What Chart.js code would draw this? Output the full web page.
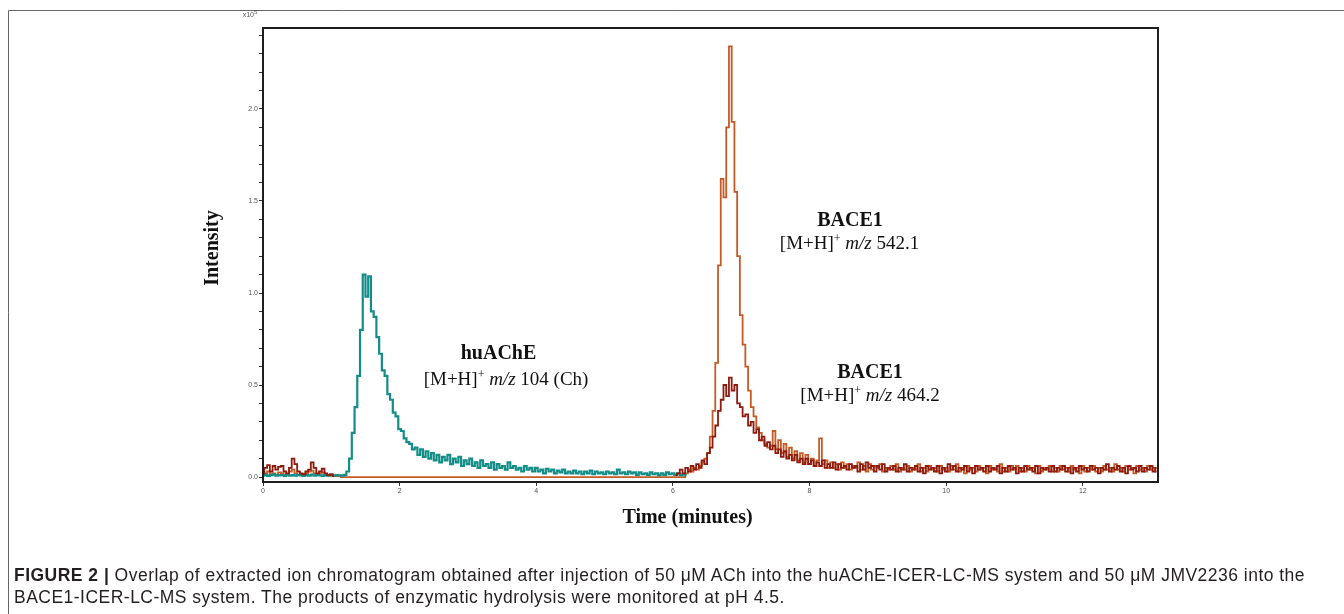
<!DOCTYPE html>
<html>
<head>
<meta charset="utf-8">
<script src="https://cdn.jsdelivr.net/npm/chart.js@4.4.1/dist/chart.umd.min.js"></script>
<style>
  html, body { margin: 0; padding: 0; background: #fff; }
  #wrap { position: relative; width: 1344px; height: 614px; overflow: hidden; }
  canvas { position: absolute; left: 0; top: 0; }
  .cap { position: absolute; left: 14px; white-space: nowrap; font-family: "Liberation Sans", Arial, sans-serif;
         font-size: 17.5px; line-height: 20px; color: #231f20; }
  #cap1 { top: 565px; }
  #cap2 { top: 587px; }
</style>
</head>
<body>
<div id="wrap">
  <canvas id="c" width="1344" height="614"></canvas>
  <div id="cap1" class="cap"><b>FIGURE 2 |</b> Overlap of extracted ion chromatogram obtained after injection of 50 μM ACh into the huAChE-ICER-LC-MS system and 50 μM JMV2236 into the</div>
  <div id="cap2" class="cap">BACE1-ICER-LC-MS system. The products of enzymatic hydrolysis were monitored at pH 4.5.</div>
</div>
<script>
// ---------------- DATA (intensity in units of 10^5, time in minutes) ----------------
const SAMPLE_DT = 0.04;           // sampling interval of the traces (min)

// huAChE  [M+H]+ m/z 104 (Ch) — starts at t = 0
const tealStart = 0;
const tealValues = [
  0.008,0.012,0.006,0.010,0.014,0.007,0.009,0.011,0.006,0.013,0.008,0.010,0.007,0.012,0.009,0.006,
  0.011,0.008,0.013,0.007,0.010,0.009,0.006,0.012,0.008,0.010,0.007,0.011,0.009,0.008,0.012,
  0.03,0.10,0.24,0.38,0.55,0.80,1.10,0.98,1.09,0.90,0.87,0.76,0.67,0.58,0.55,0.45,0.42,0.35,0.33,
  0.26,0.25,0.21,0.19,0.18,0.15,
  0.16,0.12,0.15,0.11,0.14,0.10,0.13,0.09,0.12,0.08,0.11,0.09,0.12,0.07,0.10,0.08,0.11,0.06,0.09,
  0.07,0.10,0.06,0.08,0.05,0.09,0.06,0.07,0.05,0.08,0.04,0.07,0.05,0.06,0.04,0.08,0.05,0.06,0.04,
  0.05,0.03,0.06,0.04,0.05,0.03,0.05,0.03,0.04,0.02,0.045,0.03,0.04,0.02,0.035,0.025,0.04,0.02,
  0.03,0.02,0.035,0.02,0.03,0.015,0.03,0.02,0.035,0.015,0.03,0.02,0.025,0.015,0.03,0.02,0.025,
  0.015,0.04,0.02,0.025,0.015,0.03,0.02,0.025,0.012,0.025,0.015,0.02,0.012,0.025,0.015,0.02,0.01,
  0.02,0.012,0.025,0.015,0.02,0.012,0.02,0.01,0.015,0.01
];

// BACE1 [M+H]+ m/z 464.2 — two recorded segments
const red464StartA = 0;
const red464A = [
  0.02,0.05,0.065,0.03,0.06,0.04,0.055,0.06,0.03,0.02,0.05,0.10,0.07,0.03,0.02,0.015,0.03,0.04,
  0.08,0.05,0.02,0.03,0.045,0.02,0.01,0.015,0.005
];
const red464StartB = 6.04;
const red464B = [
  0.01,0.02,0.04,0.02,0.05,0.03,0.06,0.04,0.07,0.05,0.09,0.07,0.13,0.16,0.22,0.28,0.36,0.42,0.50,0.44,0.54,0.47,0.50,0.40,0.38,
  0.33,0.34,0.28,0.30,0.24,0.26,0.20,0.22,0.17,0.19,0.15,0.17,0.13,0.15,0.11,0.14,0.10,0.12,0.09,0.12,0.08,0.10,0.07,0.10,0.07,
  0.09,0.06,0.08,0.06,0.09,0.05,0.07,0.05,0.08,0.04,0.07,0.05,0.06,0.04,0.07,0.05,0.06,0.03,0.07,0.04,0.08,0.05,0.06,0.03,0.06,
  0.04,0.07,0.03,0.05,0.04,0.06,0.03,0.05,0.04,0.07,0.03,0.05,0.04,0.06,0.03,0.05,0.02,0.06,0.04,0.05,0.03,0.06,0.02,0.05,0.03,
  0.07,0.04,0.06,0.03,0.05,0.04,0.06,0.03,0.05,0.02,0.06,0.04,0.05,0.03,0.06,0.03,0.05,0.04,0.06,0.02,0.05,0.03,0.06,0.04,0.05,
  0.02,0.05,0.03,0.06,0.04,0.05,0.03,0.06,0.02,0.05,0.04,0.05,0.03,0.06,0.03,0.05,0.04,0.06,0.03,0.05,0.02,0.05,0.03,0.06,0.04,
  0.05,0.03,0.06,0.04,0.05,0.02,0.05,0.04,0.07,0.03,0.05,0.04,0.06,0.03,0.05,0.02,0.06,0.04,0.05,0.03,0.06,0.03,0.05,0.04,0.06,0.03,0.05
];

// BACE1 [M+H]+ m/z 542.1
const orange542StartA = 0;
const orange542A = [
  0.01,0.02,0.03,0.015,0.02,0.01,0.025,0.02,0.01,0.015,0.03,0.04,0.02,0.01,0.015,0.01,0.02,0.03,
  0.035,0.02,0.01,0.02,0.025,0.01,0.008,0.01,0.005
];
const orange542FlatTimes = [1.24, 6.16];
const orange542FlatValues = [0, 0];
const orange542StartB = 6.20;
const orange542B = [
  0.02,0.04,0.03,0.05,0.04,0.06,0.08,0.10,0.13,0.22,0.36,0.62,1.15,1.62,1.52,1.90,2.34,1.93,1.55,1.20,
  0.88,0.72,0.60,0.47,0.38,0.33,0.27,0.24,0.20,0.18,0.16,
  0.17,0.25,0.15,0.20,0.13,0.18,0.11,0.16,0.10,0.14,0.09,0.13,0.08,0.12,0.07,0.10,0.06,0.09,0.21,0.07,0.09,0.05,0.08,0.05,0.07,
  0.04,0.08,0.05,0.07,0.04,0.06,0.05,0.08,0.04,0.06,0.03,0.07,0.04,0.06,0.05,0.07,0.03,0.05,0.04,0.06,0.04,0.07,0.03,0.05,0.04,
  0.06,0.03,0.05,0.04,0.07,0.03,0.05,0.03,0.06,0.04,0.05,0.03,0.06,0.04,0.05,0.03,0.06,0.04,0.07,0.03,0.05,0.02,0.06,0.04,0.05,
  0.03,0.06,0.04,0.05,0.02,0.06,0.04,0.05,0.03,0.07,0.03,0.05,0.03,0.06,0.04,0.06,0.03,0.05,0.03,0.06,0.04,0.05,0.02,0.06,0.03,
  0.05,0.04,0.06,0.03,0.05,0.03,0.06,0.04,0.05,0.03,0.06,0.04,0.05,0.02,0.06,0.03,0.05,0.04,0.06,0.03,0.05,0.03,0.06,0.04,0.05,
  0.03,0.07,0.04,0.05,0.03,0.06,0.04,0.05,0.02,0.06,0.04,0.05,0.03,0.06,0.04,0.05,0.03
];

// Axis ticks
const xTickValues = [0, 2, 4, 6, 8, 10, 12];
const yTickValues = [0,0.1,0.2,0.3,0.4,0.5,0.6,0.7,0.8,0.9,1.0,1.1,1.2,1.3,1.4,1.5,1.6,1.7,1.8,1.9,2.0,2.1,2.2,2.3,2.4];
const yLabelValues = [0, 0.5, 1.0, 1.5, 2.0];
const xTitle = 'Time (minutes)';
const yTitle = 'Intensity';
const yMultiplier = 'x10';
const yMultiplierExp = '5';

// Annotation labels (anchored in data coordinates: time, intensity)
const annotationTexts = [
  { t: 3.447, v: 0.674, parts: [['b', 'huAChE']] },
  { t: 3.557, v: 0.533, parts: [['r', '[M+H]'], ['s', '+'], ['r', ' '], ['i', 'm/z'], ['r', ' 104 (Ch)']] },
  { t: 8.592, v: 1.402, parts: [['b', 'BACE1']] },
  { t: 8.585, v: 1.272, parts: [['r', '[M+H]'], ['s', '+'], ['r', ' '], ['i', 'm/z'], ['r', ' 542.1']] },
  { t: 8.885, v: 0.576, parts: [['b', 'BACE1']] },
  { t: 8.885, v: 0.451, parts: [['r', '[M+H]'], ['s', '+'], ['r', ' '], ['i', 'm/z'], ['r', ' 464.2']] }
];

// ---------------- BUILD ----------------
function seg(start, values) {
  return values.map((v, i) => ({ x: +(start + i * SAMPLE_DT).toFixed(3), y: v }));
}
const tealData = seg(tealStart, tealValues);
const redData = seg(red464StartA, red464A)
  .concat([{ x: 3.5, y: null }])
  .concat(seg(red464StartB, red464B));
const orangeData = seg(orange542StartA, orange542A)
  .concat(orange542FlatTimes.map((t, i) => ({ x: t, y: orange542FlatValues[i] })))
  .concat(seg(orange542StartB, orange542B));

const SERIF = '"Liberation Serif", "Times New Roman", serif';
const SANS = '"Liberation Sans", Arial, sans-serif';
const fontFor = {
  b: 'bold 20px ' + SERIF,
  r: '19px ' + SERIF,
  i: 'italic 19px ' + SERIF,
  s: '12px ' + SERIF
};

function drawRich(ctx, cx, cy, parts) {
  let total = 0;
  const widths = parts.map(p => { ctx.font = fontFor[p[0]]; const w = ctx.measureText(p[1]).width; total += w; return w; });
  let x = cx - total / 2;
  ctx.textAlign = 'left';
  ctx.textBaseline = 'alphabetic';
  parts.forEach((p, i) => {
    ctx.font = fontFor[p[0]];
    const base = cy + 6.5;
    ctx.fillText(p[1], x, p[0] === 's' ? base - 7 : base);
    x += widths[i];
  });
}

const decor = {
  id: 'decor',
  beforeDraw(chart) {
    const ctx = chart.ctx;
    ctx.save();
    ctx.fillStyle = '#fff';
    ctx.fillRect(0, 0, chart.width, chart.height);
    ctx.strokeStyle = '#666';
    ctx.lineWidth = 1;
    ctx.beginPath();
    ctx.moveTo(8.5, 614); ctx.lineTo(8.5, 10.5); ctx.lineTo(1344, 10.5);
    ctx.stroke();
    ctx.restore();
  },
  afterDraw(chart) {
    const ctx = chart.ctx;
    const a = chart.chartArea;
    const xs = chart.scales.x, ys = chart.scales.y;
    ctx.save();
    // plot frame
    ctx.strokeStyle = '#1e1e1e';
    ctx.lineWidth = 2;
    ctx.strokeRect(a.left, a.top, a.right - a.left, a.bottom - a.top);
    // annotations
    ctx.fillStyle = '#111';
    annotationTexts.forEach(an => {
      drawRich(ctx, xs.getPixelForValue(an.t), ys.getPixelForValue(an.v), an.parts);
    });
    // axis titles
    ctx.font = 'bold 20px ' + SERIF;
    ctx.textAlign = 'center';
    ctx.textBaseline = 'middle';
    ctx.fillText(xTitle, (a.left + a.right) / 2 - 23, 518);
    ctx.save();
    ctx.translate(213, 248);
    ctx.rotate(-Math.PI / 2);
    ctx.fillText(yTitle, 0, 0);
    ctx.restore();
    // multiplier label
    ctx.fillStyle = '#555';
    ctx.font = '7px ' + SANS;
    ctx.textAlign = 'right';
    ctx.textBaseline = 'middle';
    ctx.fillText(yMultiplier, 254, 15);
    ctx.font = '6px ' + SANS;
    ctx.textAlign = 'left';
    ctx.fillText(yMultiplierExp, 254, 12);
    ctx.restore();
  }
};

new Chart(document.getElementById('c'), {
  type: 'line',
  data: {
    datasets: [
      { label: 'BACE1 m/z 464.2', data: redData, borderColor: '#8e1a0e', borderWidth: 1.8, order: 0 },
      { label: 'huAChE m/z 104', data: tealData, borderColor: '#138d88', borderWidth: 2.2, order: 1 },
      { label: 'BACE1 m/z 542.1', data: orangeData, borderColor: '#c55a25', borderWidth: 1.8, order: 2 }
    ]
  },
  options: {
    responsive: false,
    animation: false,
    devicePixelRatio: 1,
    parsing: true,
    spanGaps: false,
    elements: {
      point: { radius: 0, hoverRadius: 0 },
      line: { stepped: 'middle', tension: 0, fill: false, borderJoinStyle: 'miter' }
    },
    layout: { padding: { left: 0, top: 28, right: 186, bottom: 0 } },
    plugins: { legend: { display: false }, tooltip: { enabled: false } },
    events: [],
    scales: {
      x: {
        type: 'linear', min: 0, max: 13.1,
        afterBuildTicks: s => { s.ticks = xTickValues.map(v => ({ value: v })); },
        afterFit: s => { s.height = 132; },
        ticks: { autoSkip: false, maxRotation: 0, padding: 1, color: '#555', font: { family: SANS, size: 7 },
                 callback: v => String(v) },
        grid: { display: true, drawOnChartArea: false, drawTicks: true, tickLength: 4, color: '#333', lineWidth: 1 },
        border: { display: false }
      },
      y: {
        type: 'linear', min: -0.027, max: 2.44,
        afterBuildTicks: s => { s.ticks = yTickValues.map(v => ({ value: v })); },
        afterFit: s => { s.width = 263; },
        ticks: { autoSkip: false, padding: 1, color: '#555', font: { family: SANS, size: 7 },
                 callback: v => yLabelValues.some(l => Math.abs(l - v) < 1e-6) ? v.toFixed(1) : '' },
        grid: { display: true, drawOnChartArea: false, drawTicks: true, tickLength: 4, color: '#333', lineWidth: 1 },
        border: { display: false }
      }
    }
  },
  plugins: [decor]
});

// fit the caption's first line to the figure width; reuse the same spacing for line two
(function fitCaption() {
  const el1 = document.getElementById('cap1');
  const el2 = document.getElementById('cap2');
  const w = el1.getBoundingClientRect().width;
  const n = el1.textContent.length;
  if (w > 0 && n > 1) {
    const ls = ((1291 - w) / n).toFixed(3) + 'px';
    el1.style.letterSpacing = ls;
    el2.style.letterSpacing = ls;
  }
})();
</script>
</body>
</html>
